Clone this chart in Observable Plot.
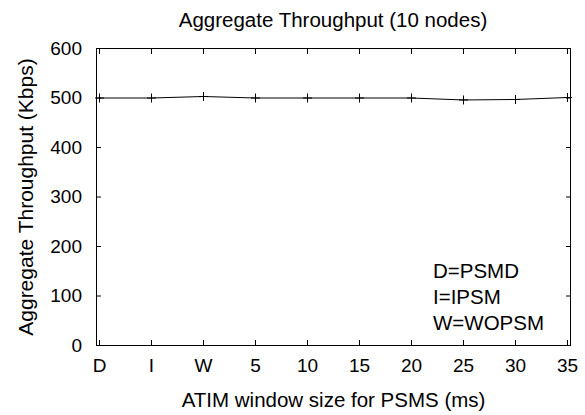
<!DOCTYPE html>
<html>
<head>
<meta charset="utf-8">
<script src="https://cdn.jsdelivr.net/npm/d3@7"></script>
<script src="https://cdn.jsdelivr.net/npm/@observablehq/plot@0.6"></script>
<style>
  body { margin: 0; background: #fff; }
  #chart { position: relative; width: 585px; height: 415px; }
  #title { position: absolute; left: 96px; width: 474px; top: 10px; text-align: center; line-height: 1;
    font-family: "Liberation Sans", Arial, sans-serif; font-size: 20.5px; color: #000; white-space: nowrap; }
  svg { position: absolute; left: 0; top: 0; }
</style>
</head>
<body>
<div id="chart">
<div id="title">Aggregate Throughput (10 nodes)</div>
</div>
<script>
const categories = ["D", "I", "W", "5", "10", "15", "20", "25", "30", "35"];
const throughput = [500, 500, 503, 500, 500, 500, 500, 496, 497, 501];
const yTicks = [0, 100, 200, 300, 400, 500, 600];
const legendLines = ["D=PSMD", "I=IPSM", "W=WOPSM"];

const data = categories.map((c, i) => ({x: c, y: throughput[i]}));

const font = "Liberation Sans, Arial, sans-serif";
const legendMarks = legendLines.map((t, i) =>
  Plot.text([t], {
    frameAnchor: "top-left", text: (d) => d, textAnchor: "start", lineAnchor: "top",
    dx: 336.5, dy: 215 + i * 26, fontSize: 20.5, fill: "#000"
  })
);

const plot = Plot.plot({
  width: 585,
  height: 415,
  marginLeft: 96,
  marginRight: 15,
  marginTop: 48,
  marginBottom: 70,
  style: {fontFamily: font, fontSize: "19px", color: "#000", background: "transparent"},
  x: {type: "point", domain: categories, padding: 0},
  y: {domain: [0, 600]},
  marks: [
    Plot.frame({stroke: "#000", strokeWidth: 1}),
    Plot.axisX({anchor: "bottom", tickSize: -5, tickPadding: 18, fontSize: 19, label: null}),
    Plot.axisX({anchor: "bottom", ticks: [], tickSize: 0, label: "ATIM window size for PSMS (ms)", labelAnchor: "center", labelOffset: 61, labelArrow: "none", fontSize: 20.5}),
    Plot.axisX({anchor: "top", tickSize: -5, tickFormat: () => "", label: null}),
    Plot.axisY({anchor: "left", ticks: yTicks, tickSize: -5, tickPadding: 19.5, fontSize: 19, label: null}),
    Plot.axisY({anchor: "left", ticks: [], tickSize: 0, label: "Aggregate Throughput (Kbps)", labelAnchor: "center", labelOffset: 78, labelArrow: "none", fontSize: 21}),
    Plot.axisY({anchor: "right", ticks: yTicks, tickSize: -5, tickFormat: () => "", label: null}),
    Plot.line(data, {x: "x", y: "y", stroke: "#000", strokeWidth: 1}),
    Plot.dot(data, {x: "x", y: "y", symbol: "plus", r: 3, stroke: "#000", strokeWidth: 1}),
    ...legendMarks
  ]
});
document.getElementById("chart").appendChild(plot);
</script>
</body>
</html>
